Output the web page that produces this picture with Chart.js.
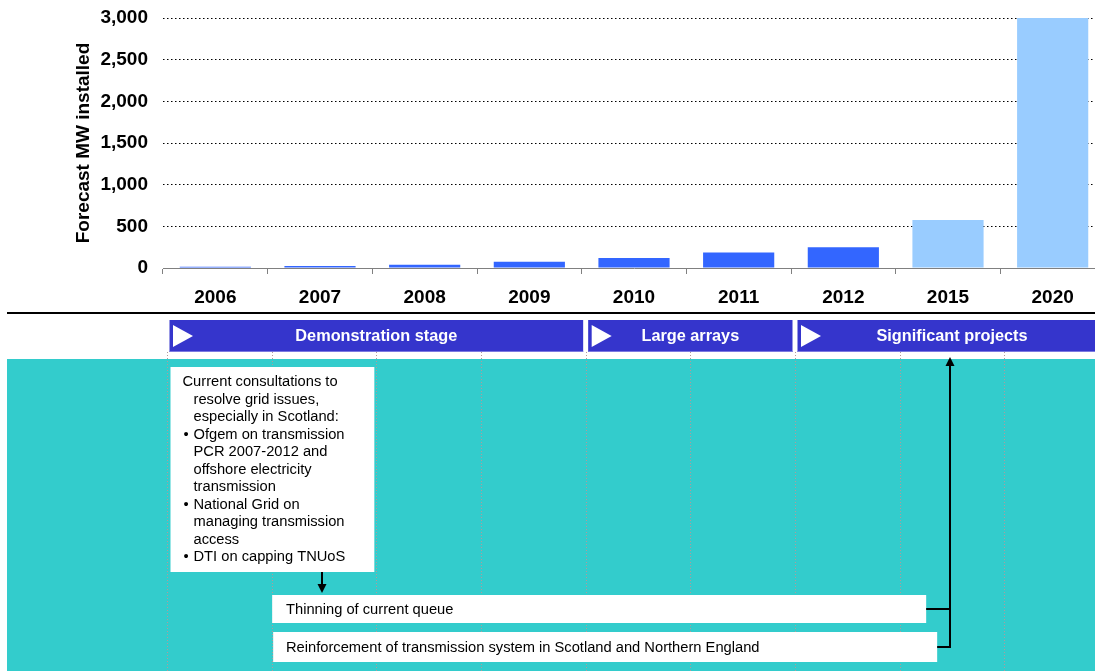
<!DOCTYPE html>
<html>
<head>
<meta charset="utf-8">
<title>Forecast MW installed</title>
<script src="https://cdn.jsdelivr.net/npm/chart.js@4.4.1/dist/chart.umd.min.js"></script>
<style>
  html, body { margin: 0; padding: 0; background: #fff; overflow: hidden; }
  #wrap { position: relative; width: 1105px; height: 671px; }
</style>
</head>
<body>
<div id="wrap"><canvas id="mwChart" width="1105" height="671"></canvas></div>
<script>
// forecast capacity by year
const years = ['2006', '2007', '2008', '2009', '2010', '2011', '2012', '2015', '2020']
const forecastMW = [15, 25, 40, 75, 120, 185, 250, 575, 3000]
const barColours = ['#3366FF', '#3366FF', '#3366FF', '#3366FF', '#3366FF', '#3366FF', '#3366FF', '#99CCFF', '#99CCFF']
const yMax = 3000
const yStep = 500

// timeline underneath the bars (column indexes into years)
const phases = [
    { label: 'Demonstration stage', from: 0, to: 3 },
    { label: 'Large arrays', from: 4, to: 5 },
    { label: 'Significant projects', from: 6, to: 8 }
]
const consultationLines = [
    'Current consultations to',
    '  resolve grid issues,',
    '  especially in Scotland:',
    '• Ofgem on transmission',
    '  PCR 2007-2012 and',
    '  offshore electricity',
    '  transmission',
    '• National Grid on',
    '  managing transmission',
    '  access',
    '• DTI on capping TNUoS'
]
const workstreams = [
    'Thinning of current queue',
    'Reinforcement of transmission system in Scotland and Northern England'
]

const FONT = "'Liberation Sans', Arial, Helvetica, sans-serif"

// arrow head helper
function arrowHead(ctx, x, y, dir) {
    ctx.beginPath()
    ctx.moveTo(x, y)
    ctx.lineTo(x - 4.5, y - 9 * dir)
    ctx.lineTo(x + 4.5, y - 9 * dir)
    ctx.closePath()
    ctx.fill()
}

const timelinePlugin = {
    id: 'timeline',
    afterDraw(chart) {
        const ctx = chart.ctx
        const xs = chart.scales.x
        const colW = xs.getPixelForValue(1) - xs.getPixelForValue(0)
        const colLeft = i => xs.getPixelForValue(i) - colW / 2 + 4
        const W = chart.width

        ctx.save()

        // rule under the year labels
        ctx.fillStyle = '#000'
        ctx.fillRect(7, 312, W, 2)

        // teal band
        ctx.fillStyle = '#33CCCC'
        ctx.fillRect(7, 359, W, chart.height - 359)

        // dotted column separators
        ctx.strokeStyle = '#b29a9a'
        ctx.lineWidth = 1
        ctx.setLineDash([1, 2])
        for (let i = 0; i <= years.length; i++) {
            const x = Math.round(colLeft(i)) + 0.5
            ctx.beginPath()
            ctx.moveTo(x, 352)
            ctx.lineTo(x, chart.height)
            ctx.stroke()
        }
        ctx.setLineDash([])

        // phase banners
        phases.forEach(p => {
            const l = colLeft(p.from) + 2.5
            const r = colLeft(p.to + 1) - 2.5
            ctx.fillStyle = '#3535CC'
            ctx.fillRect(l, 320, r - l, 32)
            ctx.fillStyle = '#7a7ae0'
            ctx.fillRect(l, 351, r - l, 1)
            ctx.fillStyle = '#fff'
            ctx.beginPath()
            ctx.moveTo(l + 3.5, 325)
            ctx.lineTo(l + 3.5, 347)
            ctx.lineTo(l + 23.5, 336)
            ctx.closePath()
            ctx.fill()
            ctx.font = 'bold 16.3px ' + FONT
            ctx.textAlign = 'center'
            ctx.textBaseline = 'middle'
            ctx.fillText(p.label, (l + r) / 2, 337)
        })

        // consultation box
        const bl = colLeft(0) + 3.5
        const br = colLeft(2) - 2
        ctx.fillStyle = '#fff'
        ctx.fillRect(bl, 367, br - bl, 205)
        ctx.fillStyle = '#000'
        ctx.font = '14.7px ' + FONT
        ctx.textAlign = 'left'
        ctx.textBaseline = 'middle'
        consultationLines.forEach((line, i) => {
            const y = 382 + i * 17.5
            if (line.startsWith('• ')) {
                ctx.fillText('•', bl + 13, y)
                ctx.fillText(line.slice(2), bl + 23, y)
            } else if (line.startsWith('  ')) {
                ctx.fillText(line.trim(), bl + 23, y)
            } else {
                ctx.fillText(line, bl + 12, y)
            }
        })

        // arrow from consultations down to the queue
        ctx.strokeStyle = '#000'
        ctx.lineWidth = 2
        ctx.beginPath()
        ctx.moveTo(322, 572)
        ctx.lineTo(322, 585)
        ctx.stroke()
        arrowHead(ctx, 322, 593, 1)

        // workstream boxes
        const boxes = [
            { x: colLeft(1) + 0.5, y: 595, w: 654, h: 28 },
            { x: colLeft(1) + 1.5, y: 632, w: 664, h: 30 }
        ]
        boxes.forEach((b, i) => {
            ctx.fillStyle = '#fff'
            ctx.fillRect(b.x, b.y, b.w, b.h)
            ctx.fillStyle = '#000'
            ctx.font = '14.7px ' + FONT
            ctx.fillText(workstreams[i], 286, b.y + b.h / 2 + 0.5)
        })

        // connector up to the significant projects banner
        const cx = 950
        ctx.beginPath()
        ctx.moveTo(boxes[0].x + boxes[0].w, 609)
        ctx.lineTo(cx, 609)
        ctx.moveTo(boxes[1].x + boxes[1].w, 647)
        ctx.lineTo(cx, 647)
        ctx.moveTo(cx, 648)
        ctx.lineTo(cx, 364)
        ctx.stroke()
        arrowHead(ctx, cx, 357, -1)

        ctx.restore()
    }
}

const ctx = document.getElementById('mwChart').getContext('2d')

new Chart(ctx, {
    type: 'bar',
    data: {
        labels: years,
        datasets: [{
            label: 'Forecast MW installed',
            data: forecastMW,
            backgroundColor: barColours,
            borderWidth: 0,
            categoryPercentage: 1,
            barPercentage: 0.68
        }]
    },
    options: {
        responsive: false,
        animation: false,
        layout: {
            padding: { left: 0, right: 0, top: 18, bottom: 359 }
        },
        plugins: {
            legend: { display: false },
            tooltip: { enabled: false }
        },
        scales: {
            x: {
                grid: {
                    display: true,
                    drawOnChartArea: false,
                    drawTicks: true,
                    tickLength: 6,
                    color: '#808080',
                    offset: true
                },
                border: { display: true, color: '#808080', width: 1 },
                ticks: {
                    color: '#000',
                    padding: 12,
                    font: { family: FONT, size: 19, weight: 'bold' }
                },
                afterFit: scale => { scale.height = 44 }
            },
            y: {
                min: 0,
                max: yMax,
                ticks: {
                    stepSize: yStep,
                    color: '#000',
                    padding: 15,
                    font: { family: FONT, size: 19, weight: 'bold' },
                    callback: v => v.toLocaleString('en-US')
                },
                grid: {
                    drawTicks: false,
                    color: c => c.tick && c.tick.value === 0 ? 'rgba(0,0,0,0)' : '#000',
                    lineWidth: 1
                },
                border: { display: false, dash: [1.5, 2.5] },
                title: {
                    display: true,
                    text: 'Forecast MW installed',
                    color: '#000',
                    font: { family: FONT, size: 19, weight: 'bold' },
                    padding: { top: 72, bottom: 0 }
                },
                afterFit: scale => {
                    scale.width = 163
                    scale.paddingTop = 0
                    scale.paddingBottom = 0
                }
            }
        }
    },
    plugins: [timelinePlugin]
})
</script>
</body>
</html>
